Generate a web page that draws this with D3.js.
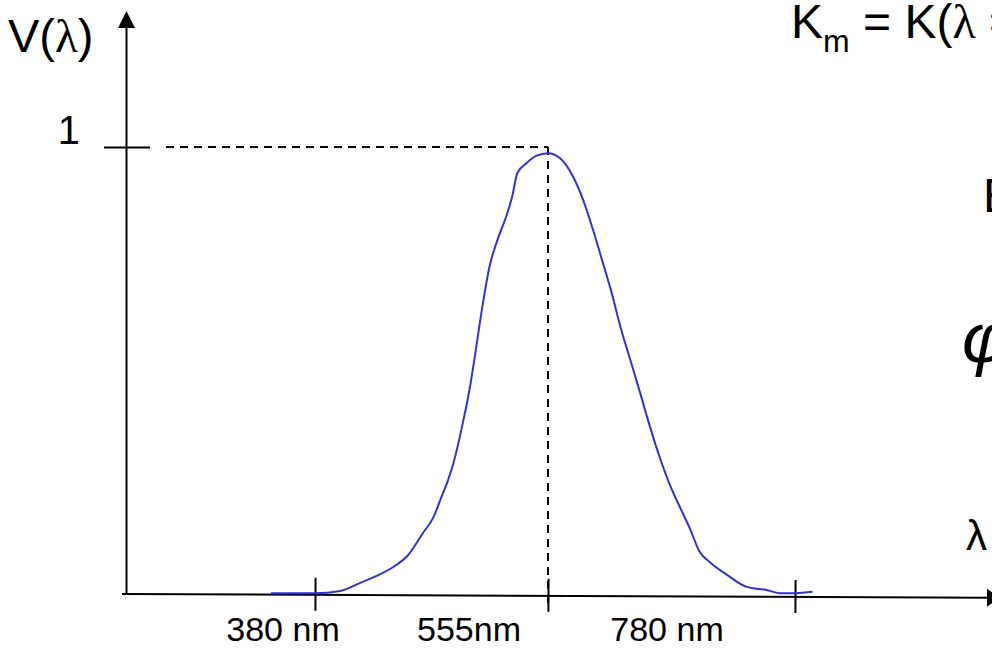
<!DOCTYPE html>
<html lang="en">
<head>
    <meta charset="UTF-8">
    <title>V(lambda)</title>
    <script src="https://cdn.jsdelivr.net/npm/d3@7/dist/d3.min.js"></script>
    <style>
        body { margin: 0; background: #fff; }
        svg { display: block; }
        text { font-family: "Liberation Sans", Arial, sans-serif; fill: #000; }
    </style>
</head>
<body>
<div id="chart"></div>
<script>

    // Curve: wavelength (nm) and relative sensitivity.
    const wavelengths = [347, 380, 399, 414, 441, 449, 461, 469, 475, 480, 484, 491, 496, 500, 505, 511,
        517, 524, 528, 532, 539, 546, 555, 566, 578, 587, 596, 605, 613, 621, 630, 639, 648, 657,
        666, 675, 684, 693, 703, 718, 736, 754, 766, 780, 796];
    const sensitivity = [0.003, 0.003, 0.008, 0.026, 0.066, 0.085, 0.137, 0.173, 0.218, 0.256, 0.294, 0.383,
        0.457, 0.531, 0.630, 0.732, 0.792, 0.848, 0.888, 0.942, 0.964, 0.980, 0.986, 0.975, 0.933,
        0.882, 0.815, 0.741, 0.674, 0.598, 0.524, 0.450, 0.374, 0.305, 0.245, 0.196, 0.149, 0.096,
        0.071, 0.044, 0.017, 0.010, 0.003, 0.003, 0.006];

    const tickValues = [380, 555, 780];
    const tickLabels = ["380 nm", "555nm", "780 nm"];
    const peak = 555;

    const width = 992;
    const height = 649;

    const svg = d3.select("#chart").append("svg")
        .attr("width", width)
        .attr("height", height)
        .attr("viewBox", [0, 0, width, height]);

    // the wavelength axis of the sketch is not evenly spaced
    const x = d3.scaleLinear().domain([380, 555, 780]).range([315, 548, 795]);
    const y = d3.scaleLinear().domain([0, 1]).range([594.5, 147]);

    // y axis with arrow
    svg.append("line")
        .attr("x1", 126.5).attr("x2", 126.5)
        .attr("y1", y(0)).attr("y2", 26)
        .attr("stroke", "#000").attr("stroke-width", 2);
    svg.append("path")
        .attr("d", "M126.5,11 L118,28 L135,28 Z")
        .attr("fill", "#000");

    // x axis, drawn slightly tilted like the original
    const gx = svg.append("g")
        .attr("transform", "rotate(0.245, 122, 594)");
    gx.append("line")
        .attr("x1", 122).attr("x2", 988)
        .attr("y1", 594).attr("y2", 594)
        .attr("stroke", "#000").attr("stroke-width", 2);
    gx.append("path")
        .attr("d", "M1000,594 L987,585 L987,603 Z")
        .attr("fill", "#000");
    gx.append("g")
        .attr("transform", "translate(0,577)")
        .call(d3.axisBottom(x).tickValues(tickValues).tickSize(33).tickFormat(""))
        .call(g => g.select(".domain").remove())
        .call(g => g.selectAll(".tick line").attr("stroke", "#000").attr("stroke-width", 2));

    // tick labels sit left of their ticks in the sketch
    const labelShift = [-32, -79, -128];
    svg.selectAll(".xlabel")
        .data(tickValues)
        .join("text")
        .attr("class", "xlabel")
        .attr("x", (d, i) => x(d) + labelShift[i])
        .attr("y", 641)
        .attr("text-anchor", "middle")
        .attr("font-size", 34)
        .text((d, i) => tickLabels[i]);

    // y tick at 1
    svg.append("g")
        .attr("transform", "translate(150,0)")
        .call(d3.axisLeft(y).tickValues([1]).tickSize(46).tickFormat(""))
        .call(g => g.select(".domain").remove())
        .call(g => g.selectAll(".tick line").attr("stroke", "#000").attr("stroke-width", 2));
    svg.append("text")
        .attr("x", 80).attr("y", 144)
        .attr("text-anchor", "end")
        .attr("font-size", 40)
        .text("1");

    // dashed guides to the peak
    svg.append("line")
        .attr("x1", 166).attr("x2", x(peak))
        .attr("y1", y(1)).attr("y2", y(1))
        .attr("stroke", "#000").attr("stroke-width", 2)
        .attr("stroke-dasharray", "8,6");
    svg.append("line")
        .attr("x1", x(peak)).attr("x2", x(peak))
        .attr("y1", y(1)).attr("y2", 608)
        .attr("stroke", "#000").attr("stroke-width", 2)
        .attr("stroke-dasharray", "8,6");

    // the curve
    const line = d3.line()
        .x((d, i) => x(wavelengths[i]))
        .y(d => y(d))
        .curve(d3.curveMonotoneX);
    svg.append("path")
        .datum(sensitivity)
        .attr("fill", "none")
        .attr("stroke", "#3333cc")
        .attr("stroke-width", 2)
        .attr("d", line);

    // texts
    const vl = svg.append("text").attr("x", 8).attr("y", 52).attr("font-size", 47);
    vl.append("tspan").text("V(");
    vl.append("tspan").attr("font-family", "Liberation Serif, serif").text("λ");
    vl.append("tspan").text(")");

    const km = svg.append("text").attr("x", 791).attr("y", 38).attr("font-size", 48);
    km.append("tspan").text("K");
    km.append("tspan").attr("font-size", 32).attr("dy", 14).text("m");
    km.append("tspan").attr("dy", -14).text(" = K(");
    km.append("tspan").attr("font-family", "Liberation Serif, serif").text("λ");
    km.append("tspan").text(" = 555 nm)");

    svg.append("text")
        .attr("x", 983).attr("y", 212)
        .attr("font-size", 48)
        .text("E");

    svg.append("text")
        .attr("x", 962).attr("y", 362)
        .attr("font-family", "Liberation Serif, serif")
        .attr("font-style", "italic")
        .attr("font-size", 70)
        .text("φ");

    svg.append("text")
        .attr("x", 966).attr("y", 550)
        .attr("font-family", "Liberation Serif, serif")
        .attr("font-size", 42)
        .text("λ");

</script>
</body>
</html>
